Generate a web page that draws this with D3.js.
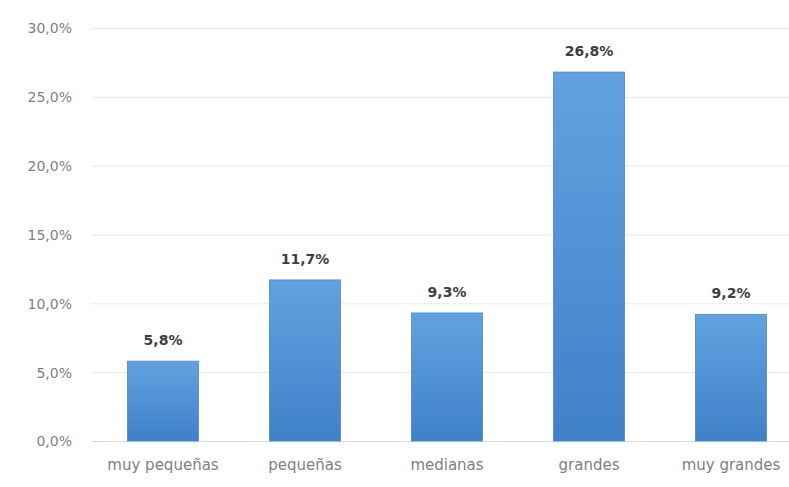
<!DOCTYPE html>
<html><head><meta charset="utf-8">
<script src="https://cdn.jsdelivr.net/npm/d3@7"></script>
<style>body{margin:0;background:#fff;} svg{display:block;}</style>
</head><body>
<svg id="c" width="789" height="487"></svg>
<script>
const categories = ["muy pequeñas","pequeñas","medianas","grandes","muy grandes"];
const values = [5.8, 11.7, 9.3, 26.8, 9.2];
const yTicks = [0,5,10,15,20,25,30];
const fmt = v => d3.format(".1f")(v).replace(".", ",") + "%";

const svg = d3.select("#c");
const x = d3.scaleBand().domain(categories).range([92, 802]).paddingInner(0.5).paddingOuter(0.25);
const y = d3.scaleLinear().domain([0,30]).range([441, 28]);

const defs = svg.append("defs");
const g = defs.append("linearGradient").attr("id","bg").attr("x1",0).attr("y1",0).attr("x2",0).attr("y2",1);
g.append("stop").attr("offset","0%").attr("stop-color","#63a2e0");
g.append("stop").attr("offset","100%").attr("stop-color","#3f80c8");

// gridlines
svg.append("g").selectAll("line").data(yTicks).join("line")
  .attr("x1",92).attr("x2",789).attr("y1",d=>y(d)+0.5).attr("y2",d=>y(d)+0.5)
  .attr("stroke",d=>d===0?"#d9d9d9":"#e8e8e8").attr("stroke-width",1);

// y axis labels
const ya = d3.axisLeft(y).tickValues(yTicks).tickFormat(fmt).tickSize(0).tickPadding(0);
const yg = svg.append("g").attr("transform","translate(72,0)").call(ya);
yg.select(".domain").remove();
yg.selectAll("text").attr("font-family","DejaVu Sans").attr("font-size",14).attr("fill","#7f7f7f").attr("dy","0.35em");

// x axis labels
const xa = d3.axisBottom(x).tickSize(0).tickPadding(0);
const xg = svg.append("g").attr("transform","translate(0,459)").call(xa);
xg.select(".domain").remove();
xg.selectAll("text").attr("font-family","DejaVu Sans").attr("font-size",15).attr("fill","#7f7f7f").attr("dy","0.71em");

// bars
svg.append("g").selectAll("rect").data(values).join("rect")
  .attr("x",(d,i)=>x(categories[i])).attr("width",x.bandwidth())
  .attr("y",d=>y(d)).attr("height",d=>y(0)-y(d))
  .attr("fill","url(#bg)").attr("stroke","#4a88cc").attr("stroke-width",0.8);

// value labels
svg.append("g").selectAll("text").data(values).join("text")
  .attr("x",(d,i)=>x(categories[i])+x.bandwidth()/2).attr("y",d=>y(d)-16)
  .attr("text-anchor","middle").attr("font-family","DejaVu Sans").attr("font-weight","bold")
  .attr("font-size",14).attr("fill","#404040").text(d=>fmt(d));
</script>
</body></html>
